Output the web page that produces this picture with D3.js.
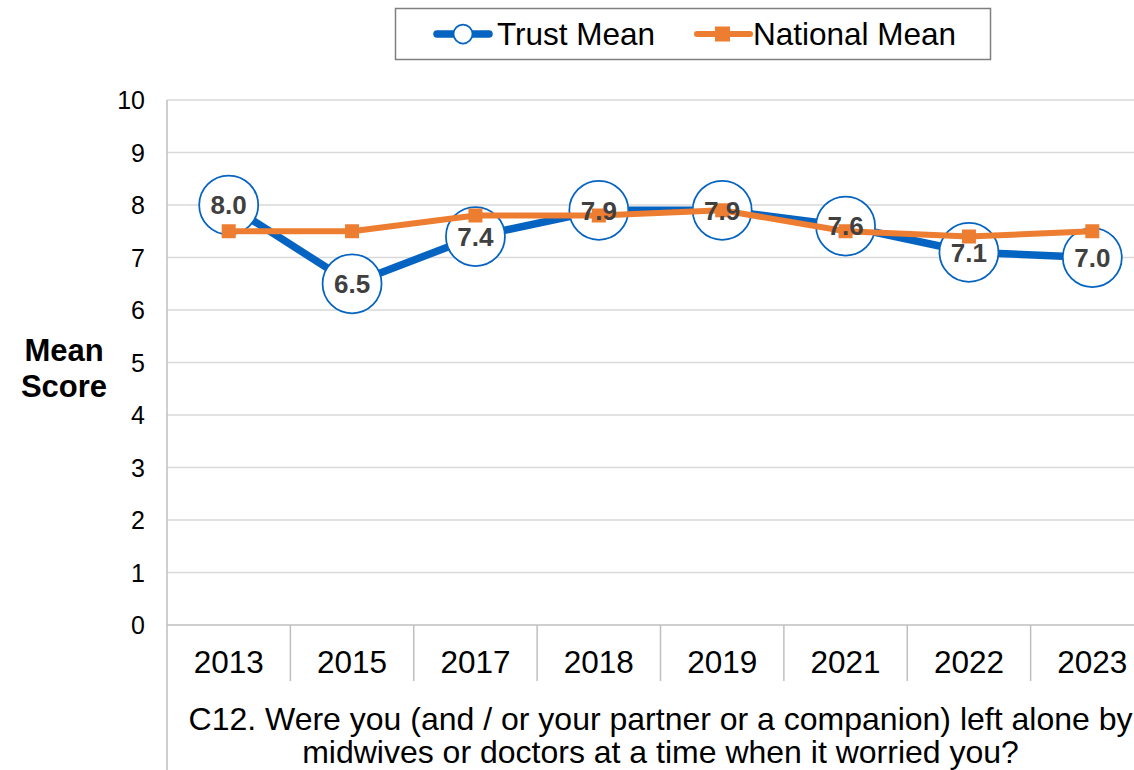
<!DOCTYPE html>
<html>
<head>
<meta charset="utf-8">
<script src="https://cdn.jsdelivr.net/npm/d3@7"></script>
<style>
  html, body { margin: 0; padding: 0; background: #fff; }
  svg { display: block; font-family: "Liberation Sans", Arial, sans-serif; }
</style>
</head>
<body>
<svg id="chart" width="1134" height="770"></svg>
<script>
// Survey years and mean scores
const years = ["2013", "2015", "2017", "2018", "2019", "2021", "2022", "2023"];
const trustMean = [8.0, 6.5, 7.4, 7.9, 7.9, 7.6, 7.1, 7.0];
const nationalMean = [7.5, 7.5, 7.8, 7.8, 7.9, 7.5, 7.4, 7.5];
const yTicks = [0, 1, 2, 3, 4, 5, 6, 7, 8, 9, 10];
const seriesNames = ["Trust Mean", "National Mean"];
const questionLines = [
  "C12. Were you (and / or your partner or a companion) left alone by",
  "midwives or doctors at a time when it worried you?"
];

const blue = "#0563C1";
const orange = "#ED7D31";
const gridColor = "#D9D9D9";
const axisColor = "#BFBFBF";

const svg = d3.select("#chart");

const plot = { left: 167, right: 1154, top: 100, bottom: 625 };

const x = d3.scaleBand().domain(years).range([plot.left, plot.right]);
const y = d3.scaleLinear().domain([0, 10]).range([plot.bottom, plot.top]);
const cx = d => x(d) + x.bandwidth() / 2;

// Horizontal gridlines
svg.append("g")
  .selectAll("line")
  .data(yTicks.filter(t => t > 0))
  .join("line")
  .attr("x1", plot.left).attr("x2", plot.right)
  .attr("y1", d => y(d)).attr("y2", d => y(d))
  .attr("stroke", gridColor).attr("stroke-width", 1.5);

// Y axis tick labels
svg.append("g")
  .selectAll("text")
  .data(yTicks)
  .join("text")
  .attr("x", 145)
  .attr("y", d => y(d))
  .attr("dy", "0.36em")
  .attr("text-anchor", "end")
  .attr("font-size", 25)
  .attr("fill", "#000")
  .text(d => d);

// Y axis title
svg.append("text")
  .attr("text-anchor", "middle")
  .attr("font-size", 31).attr("font-weight", "bold")
  .selectAll("tspan")
  .data(["Mean", "Score"])
  .join("tspan")
  .attr("x", 64)
  .attr("y", (d, i) => 350 + i * 36)
  .attr("dy", "0.36em")
  .text(d => d);

// Left axis line, running down past the category rows
svg.append("line")
  .attr("x1", plot.left).attr("x2", plot.left)
  .attr("y1", plot.top).attr("y2", 770)
  .attr("stroke", axisColor).attr("stroke-width", 1.5);

// Category axis baseline
svg.append("line")
  .attr("x1", plot.left).attr("x2", plot.right)
  .attr("y1", plot.bottom).attr("y2", plot.bottom)
  .attr("stroke", axisColor).attr("stroke-width", 1.5);

// Category separators
svg.append("g")
  .selectAll("line")
  .data(years.slice(1))
  .join("line")
  .attr("x1", d => x(d)).attr("x2", d => x(d))
  .attr("y1", plot.bottom).attr("y2", 681)
  .attr("stroke", axisColor).attr("stroke-width", 1.5);

// Category labels
svg.append("g")
  .selectAll("text")
  .data(years)
  .join("text")
  .attr("x", d => cx(d))
  .attr("y", 662)
  .attr("dy", "0.36em")
  .attr("text-anchor", "middle")
  .attr("font-size", 31.5)
  .attr("fill", "#000")
  .text(d => d);

// Question text
svg.append("g")
  .selectAll("text")
  .data(questionLines)
  .join("text")
  .attr("x", (plot.left + plot.right) / 2)
  .attr("y", (d, i) => 718 + i * 33)
  .attr("dy", "0.36em")
  .attr("text-anchor", "middle")
  .attr("font-size", 32)
  .attr("fill", "#000")
  .text(d => d);

// Trust line
const line = d3.line().x(d => cx(d.year)).y(d => y(d.value));
const trustData = years.map((yr, i) => ({ year: yr, value: trustMean[i] }));
const natData = years.map((yr, i) => ({ year: yr, value: nationalMean[i] }));

svg.append("path")
  .datum(trustData)
  .attr("d", line)
  .attr("fill", "none")
  .attr("stroke", blue)
  .attr("stroke-width", 7.5)
  .attr("stroke-linejoin", "round");

svg.append("g")
  .selectAll("circle")
  .data(trustData)
  .join("circle")
  .attr("cx", d => cx(d.year))
  .attr("cy", d => y(d.value))
  .attr("r", 29.5)
  .attr("fill", "#fff")
  .attr("stroke", blue)
  .attr("stroke-width", 1.75);

// National line
svg.append("path")
  .datum(natData)
  .attr("d", line)
  .attr("fill", "none")
  .attr("stroke", orange)
  .attr("stroke-width", 6)
  .attr("stroke-linejoin", "round");

svg.append("g")
  .selectAll("rect")
  .data(natData)
  .join("rect")
  .attr("x", d => cx(d.year) - 7)
  .attr("y", d => y(d.value) - 7)
  .attr("width", 14).attr("height", 14)
  .attr("fill", orange);

// Trust value labels
svg.append("g")
  .selectAll("text")
  .data(trustData)
  .join("text")
  .attr("x", d => cx(d.year))
  .attr("y", d => y(d.value))
  .attr("dy", "0.36em")
  .attr("text-anchor", "middle")
  .attr("font-size", 26)
  .attr("font-weight", "bold")
  .attr("fill", "#404040")
  .text(d => d.value.toFixed(1));

// Legend
const legend = svg.append("g");
legend.append("rect")
  .attr("x", 395.5).attr("y", 8.5)
  .attr("width", 595).attr("height", 51)
  .attr("fill", "#fff")
  .attr("stroke", "#7F7F7F").attr("stroke-width", 1.5);

const legendY = 34;
// Trust entry
legend.append("line")
  .attr("x1", 437).attr("x2", 489)
  .attr("y1", legendY).attr("y2", legendY)
  .attr("stroke", blue).attr("stroke-width", 7.5).attr("stroke-linecap", "round");
legend.append("circle")
  .attr("cx", 463).attr("cy", legendY).attr("r", 9.5)
  .attr("fill", "#fff").attr("stroke", blue).attr("stroke-width", 1.75);
legend.append("text")
  .attr("x", 497).attr("y", legendY).attr("dy", "0.36em")
  .attr("font-size", 31.5).attr("fill", "#000")
  .text(seriesNames[0]);
// National entry
legend.append("line")
  .attr("x1", 697).attr("x2", 750)
  .attr("y1", legendY).attr("y2", legendY)
  .attr("stroke", orange).attr("stroke-width", 6).attr("stroke-linecap", "round");
legend.append("rect")
  .attr("x", 715).attr("y", legendY - 7.5)
  .attr("width", 15).attr("height", 15)
  .attr("fill", orange);
legend.append("text")
  .attr("x", 753).attr("y", legendY).attr("dy", "0.36em")
  .attr("font-size", 31.5).attr("fill", "#000")
  .text(seriesNames[1]);
</script>
</body>
</html>
